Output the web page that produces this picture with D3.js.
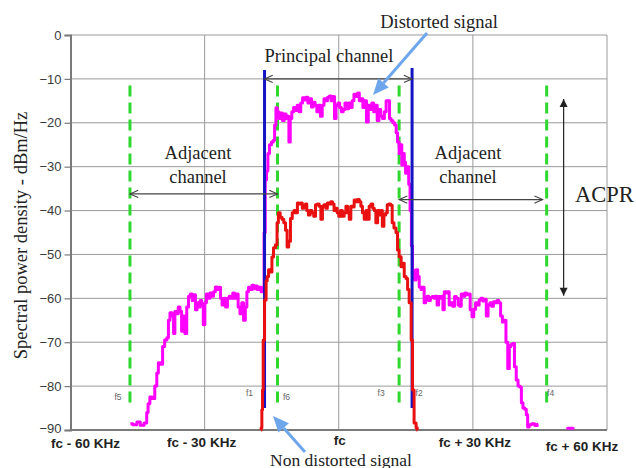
<!DOCTYPE html>
<html><head><meta charset="utf-8">
<script src="https://cdn.jsdelivr.net/npm/d3@7"></script>
<style>body{margin:0;background:#fff} svg{display:block}</style>
</head><body>
<svg id="c" width="636" height="468"></svg>
<script>
// ---------- data ----------
const yTicks = [0,-10,-20,-30,-40,-50,-60,-70,-80,-90];
const xTicks = [-60,-30,0,30,60];
const xTickLabels = ["fc - 60 KHz","fc - 30 KHz","fc","fc + 30 KHz","fc + 60 KHz"];

// distorted signal (kHz offset from fc, dBm/Hz)
const distorted = [
[-46.6,-88.6],[-45.5,-88.8],[-44.8,-88.2],[-44,-88.9],[-43.1,-88.4],[-42.8,-86],[-42.5,-84],[-42.0,-82.5],[-41.4,-82.8],[-40.9,-80],[-40.5,-77],[-40.2,-74.7],[-39.6,-75],[-39.2,-71],[-38.7,-69.5],[-38.2,-69],[-38.0,-65],[-37.5,-63.3],[-37.1,-64],[-36.8,-68],[-36.5,-63],[-36.1,-63.5],[-35.7,-62],[-35.3,-63],[-35.0,-67.5],[-34.6,-64],[-34.2,-68],[-33.8,-62],[-33.4,-59.5],[-33.0,-59],[-32.6,-60.5],[-32.2,-59.2],[-31.9,-62.6],[-31.5,-61],[-31.2,-62],[-30.8,-60.5],[-30.5,-61.5],[-30.1,-66],[-29.8,-61],[-29.4,-59],[-29.0,-60],[-28.6,-58.8],[-28.2,-59.5],[-27.8,-58.5],[-27.4,-57.4],[-27.0,-58],[-26.6,-57.5],[-26.3,-60],[-25.9,-61.5],[-25.5,-60],[-25.1,-62],[-24.7,-60],[-24.3,-59.5],[-23.9,-60],[-23.5,-58.8],[-23.1,-60],[-22.7,-59],[-22.3,-62],[-21.9,-63.5],[-21.5,-61],[-21.1,-65],[-20.7,-62],[-20.4,-58.5],[-20.0,-57.5],[-19.6,-58],[-19.2,-57],[-18.8,-57.8],[-18.4,-57.2],[-18.0,-58],[-17.6,-57.5],[-17.1,-58.5],
[-16.8,-58],[-16.6,-45],[-16.3,-33],[-16.0,-31],[-15.7,-27],[-15.3,-25],[-14.8,-24.4],[-14.5,-24],[-14.2,-20.5],[-13.9,-16.6],[-13.6,-17.5],[-13.2,-19],[-12.8,-17.8],[-12.4,-19.5],[-12.0,-18],[-11.6,-19],[-11.3,-18.5],[-11.0,-24.4],[-10.7,-19],[-10.3,-17.5],[-9.9,-16.5],[-9.5,-17.2],[-9.1,-16],[-8.7,-17.5],[-8.3,-15.5],[-7.9,-14.3],[-7.5,-14.8],[-7.1,-14.2],[-6.7,-15.5],[-6.3,-14.5],[-5.9,-16.4],[-5.5,-15.3],[-5.1,-16],[-4.7,-17.5],[-4.3,-16],[-3.9,-18.5],[-3.5,-16],[-3.1,-14.5],[-2.7,-15],[-2.3,-14.2],[-1.9,-13.9],[-1.5,-15],[-1.1,-14],[-0.8,-19],[-0.4,-16],[0,-15.5],[0.4,-16.5],[0.8,-17.5],[1.2,-17],[1.6,-15.5],[2.0,-16.8],[2.4,-15.5],[2.8,-16.5],[3.2,-15],[3.6,-13.5],[4.0,-14],[4.4,-13.2],[4.8,-15],[5.2,-14.5],[5.6,-16.5],[6.0,-15],[6.4,-19.8],[6.8,-16],[7.2,-17],[7.6,-15.5],[8.0,-17.5],[8.4,-16],[8.8,-19.5],[9.2,-17],[9.6,-18.5],[10.0,-19],[10.4,-17.5],[10.8,-15],[11.2,-15],[11.5,-19],[11.9,-19.5],[12.3,-20],[12.7,-20.5],[13.0,-22.3],[13.3,-24.4],[13.7,-27],[14.0,-25],[14.2,-29.6],[14.5,-27],[14.8,-29],[15.1,-31.5],[15.5,-30],[15.8,-34],[16.1,-40],[16.4,-48],[16.6,-53.5],
[16.8,-54],[17.1,-55.8],[17.5,-53.5],[17.8,-55],[18.2,-57.4],[18.6,-58],[18.9,-57.5],[19.3,-61],[19.6,-60],[19.9,-59.5],[20.3,-60.5],[20.7,-59.8],[21.1,-59.6],[21.5,-60],[21.8,-59.5],[22.2,-61.5],[22.5,-59.6],[22.9,-60],[23.2,-59.5],[23.4,-62.6],[23.8,-58.5],[24.2,-58.8],[24.5,-58.5],[24.9,-61.5],[25.3,-61],[25.7,-61.8],[26.1,-59.6],[26.5,-60],[26.9,-61.5],[27.2,-61.8],[27.6,-59],[28.0,-59.5],[28.4,-58.8],[28.8,-59.2],[29.2,-59],[29.6,-62.6],[30.0,-64.2],[30.4,-62.5],[30.8,-61],[31.2,-61.5],[31.6,-60.4],[32.0,-60],[32.4,-60.6],[32.8,-60.2],[33.2,-64],[33.6,-61.5],[34.0,-61],[34.4,-61.8],[34.8,-60.8],[35.2,-61],[35.6,-60.5],[36.0,-61],[36.4,-64],[36.8,-65.4],[37.2,-65],[37.6,-70],[38.0,-76],[38.3,-71],[38.7,-70.5],[39.1,-70.3],[39.5,-75.6],[39.9,-78.6],[40.3,-80],[40.7,-80.2],[41.0,-83.8],[41.4,-85],[41.8,-85.3],[42.1,-86.5],[42.4,-89.3],[42.8,-88.8],[43.5,-88.6],[44.2,-89],[44.6,-88.7]
];
const distortedTail = [[51.2,-89.6],[52.4,-89.6]];

// non distorted signal
const nonDistorted = [
[-17.4,-90],[-17.3,-89.5],[-17.1,-85.4],[-17.0,-80.9],[-16.8,-69.5],[-16.4,-60.4],[-16.1,-56],[-15.9,-55],[-15.5,-53.5],[-15.1,-54],[-14.8,-50.6],[-14.4,-48.5],[-13.9,-47.8],[-13.7,-42.8],[-13.3,-40.5],[-12.9,-41.5],[-12.5,-42],[-12.1,-42.8],[-11.7,-44.5],[-11.4,-48.3],[-11.0,-47],[-10.6,-41.8],[-10.2,-40.5],[-9.8,-40],[-9.4,-40.5],[-9.1,-38.3],[-8.7,-38.5],[-8.3,-38.3],[-8.0,-39.5],[-7.6,-39],[-7.3,-38.5],[-7.0,-40],[-6.6,-41],[-6.2,-40],[-5.8,-40.5],[-5.4,-41.3],[-5.0,-38.7],[-4.6,-38.5],[-4.2,-39],[-3.8,-42],[-3.5,-39],[-3.1,-38.7],[-2.7,-39.5],[-2.4,-38.3],[-2.0,-38.5],[-1.6,-38],[-1.2,-38.5],[-0.9,-40],[-0.5,-39.5],[-0.2,-40.5],[0.2,-41.3],[0.6,-40],[1.0,-41.3],[1.4,-40.5],[1.8,-39],[2.2,-40.5],[2.5,-42],[2.9,-39],[3.3,-39.2],[3.6,-37.6],[4.0,-38],[4.4,-37.5],[4.8,-38],[5.1,-39],[5.5,-40.5],[5.9,-42],[6.3,-40],[6.6,-42],[7.0,-39],[7.4,-38.5],[7.8,-39.5],[8.1,-40],[8.5,-42.8],[8.9,-40],[9.3,-41],[9.6,-40],[9.9,-43.6],[10.3,-41],[10.7,-40.5],[11.0,-38.7],[11.4,-38.5],[11.8,-38.8],[12.1,-42.8],[12.6,-44],[13.0,-45],[13.3,-49],[13.7,-50.5],[14.2,-52.8],[14.5,-52],[14.8,-55],[15.3,-55.5],[15.5,-58],[16.0,-61],[16.4,-69.5],[16.6,-80.9],[17.1,-88.4],[17.5,-89.5],[17.6,-90]
];

// principal channel edges (blue) and measurement frequencies (green)
const blueNames = ["f1","f2"];
const blueFreqs = [-16.6, 16.4];
const greenNames = ["f5","f6","f3","f4"];
const greenFreqs = [-46.7, -13.7, 13.5, 46.5];
const acprLevels = [-14.6, -59.4];

// ---------- drawing ----------
const svg = d3.select("#c");
const m = {l:70.5, r:607, t:35, b:430};
const x = d3.scaleLinear().domain([-60,60]).range([m.l, m.r]);
const y = d3.scaleLinear().domain([-90,0]).range([m.b, m.t]);
const serif = "'Liberation Serif','Times New Roman',serif";
const sans = "'Liberation Sans',Arial,sans-serif";

// grid
const g = svg.append("g");
g.selectAll(".hg").data(yTicks).join("line")
  .attr("x1", m.l).attr("x2", m.r)
  .attr("y1", d=>y(d)).attr("y2", d=>y(d))
  .attr("stroke", "#9a9a9a").attr("stroke-width", 1);
g.selectAll(".vg").data(xTicks).join("line")
  .attr("x1", d=>x(d)).attr("x2", d=>x(d))
  .attr("y1", m.t).attr("y2", m.b)
  .attr("stroke", "#9a9a9a").attr("stroke-width", 1);

// left axis
const yAxis = d3.axisLeft(y).tickValues(yTicks).tickSize(6).tickPadding(3).tickFormat(d3.format("d"));
const ya = svg.append("g").attr("transform", `translate(${m.l},0)`).call(yAxis);
ya.select(".domain").attr("stroke", "#7a7a7a").attr("stroke-width", 2);
ya.selectAll(".tick line").attr("stroke", "#7a7a7a").attr("stroke-width", 1.2);
ya.selectAll(".tick text").attr("font-family", sans).attr("font-size", 13).attr("fill", "#3a3a3a");
ya.selectAll(".tick text").filter(d=>d===-90).attr("dy", "0.2em");
// bottom axis line
svg.append("line").attr("x1", m.l-1).attr("x2", m.r).attr("y1", y(-90)).attr("y2", y(-90))
  .attr("stroke", "#7a7a7a").attr("stroke-width", 2);

// x labels
const xdx = [15, -3, 1, 2, -25];
const xdy = [1, 0, -2, 0, 4];
svg.append("g").selectAll("text").data(xTicks).join("text")
  .attr("x", (d,i)=>x(d)+xdx[i]).attr("y", (d,i)=>m.b+17+xdy[i])
  .attr("text-anchor", "middle").attr("font-family", sans).attr("font-weight", "bold")
  .attr("font-size", 13.5).attr("fill", "#222").text((d,i)=>xTickLabels[i]);

// y title
svg.append("text").attr("transform", `translate(27,${(m.t+m.b)/2+3}) rotate(-90)`)
  .attr("text-anchor", "middle").attr("font-family", serif).attr("font-size", 18.5)
  .attr("fill", "#222").text("Spectral power density - dBm/Hz");

// green dashed lines
svg.append("g").selectAll("line").data(greenFreqs).join("line")
  .attr("x1", d=>x(d)).attr("x2", d=>x(d)).attr("y1", y(-11.5)).attr("y2", y(-85))
  .attr("stroke", "#2fd82f").attr("stroke-width", 3).attr("stroke-dasharray", "11,6");

const line = d3.line().x(d=>x(d[0])).y(d=>y(d[1])).curve(d3.curveStep);
// distorted
svg.append("path").datum(distorted).attr("d", line).attr("fill", "none")
  .attr("stroke", "#ff00ff").attr("stroke-width", 3).attr("stroke-linejoin", "round");
svg.append("path").datum(distortedTail).attr("d", line).attr("fill", "none")
  .attr("stroke", "#ff00ff").attr("stroke-width", 3).attr("stroke-linecap", "round");

// blue lines
svg.append("g").selectAll("line").data(blueFreqs).join("line")
  .attr("x1", d=>x(d)).attr("x2", d=>x(d)).attr("y1", (d,i)=>y(i? -7.5 : -8)).attr("y2", y(-85))
  .attr("stroke", "#1414c4").attr("stroke-width", 3);

// non distorted
svg.append("path").datum(nonDistorted).attr("d", line).attr("fill", "none")
  .attr("stroke", "#e81010").attr("stroke-width", 3).attr("stroke-linejoin", "round");

// frequency labels
const labOff = {f1:[-15,393], f2:[7,393], f5:[-12,397], f6:[9,397], f3:[-18,393], f4:[4,393]};
const allNames = blueNames.concat(greenNames), allFreqs = blueFreqs.concat(greenFreqs);
svg.append("g").selectAll("text").data(allNames).join("text")
  .attr("x", (d,i)=>x(allFreqs[i]) + labOff[d][0]).attr("y", d=>labOff[d][1]+3)
  .attr("text-anchor", "middle").attr("font-family", sans).attr("font-size", 8.5)
  .attr("fill", "#666").text(d=>d);

// black double arrows
function dblArrow(x1,y1,x2,y2){
  const gg = svg.append("g").attr("stroke","#444").attr("stroke-width",1.1).attr("fill","none");
  gg.append("line").attr("x1",x1).attr("y1",y1).attr("x2",x2).attr("y2",y2);
  const a = Math.atan2(y2-y1, x2-x1), L = 9, s = 0.42;
  [[x2,y2,a],[x1,y1,a+Math.PI]].forEach(([px,py,ang])=>{
    gg.append("path").attr("d",
      `M${px-L*Math.cos(ang-s)},${py-L*Math.sin(ang-s)}L${px},${py}L${px-L*Math.cos(ang+s)},${py-L*Math.sin(ang+s)}`);
  });
}
dblArrow(x(blueFreqs[0]), y(-10), x(blueFreqs[1]), y(-10));
dblArrow(x(greenFreqs[0]), y(-36.2), x(greenFreqs[1]), y(-36.2));
dblArrow(x(greenFreqs[2]), y(-37.5), x(greenFreqs[3])-4, y(-37.5));
// ACPR arrow
(function(){
  const ax = x(50.3);
  const gg = svg.append("g");
  gg.append("line").attr("x1",ax).attr("x2",ax).attr("y1",y(acprLevels[0])).attr("y2",y(acprLevels[1]))
    .attr("stroke","#222").attr("stroke-width",1.2);
  const t = y(acprLevels[0]), b = y(acprLevels[1]);
  gg.append("path").attr("d",`M${ax-4},${t+8}L${ax},${t}L${ax+4},${t+8}Z`).attr("fill","#222");
  gg.append("path").attr("d",`M${ax-4},${b-8}L${ax},${b}L${ax+4},${b-8}Z`).attr("fill","#222");
})();

// light-blue pointer arrows
function pointer(x1,y1,x2,y2){
  const a = Math.atan2(y2-y1, x2-x1), L = 16, w = 7;
  const bx = x2 - L*Math.cos(a), by = y2 - L*Math.sin(a);
  svg.append("line").attr("x1",x1).attr("y1",y1).attr("x2",bx).attr("y2",by)
    .attr("stroke","#6ea6ec").attr("stroke-width",3);
  svg.append("path").attr("d",
    `M${x2},${y2}L${bx - w*Math.sin(a)},${by + w*Math.cos(a)}L${bx + w*Math.sin(a)},${by - w*Math.cos(a)}Z`)
    .attr("fill","#6ea6ec");
}
pointer(427, 33, 373, 95);
pointer(305, 452, 273, 416);

// text annotations
const txt = (s, tx, ty, size, anchor) => svg.append("text").attr("x",tx).attr("y",ty)
  .attr("font-family", serif).attr("font-size", size||18.5).attr("fill","#222")
  .attr("text-anchor", anchor||"middle").text(s);
txt("Distorted signal", 439, 28);
txt("Principal channel", 329, 62);
txt("Adjacent", 198, 159);
txt("channel", 198, 183);
txt("Adjacent", 468, 159);
txt("channel", 468, 183);
txt("ACPR", 575, 202, 22.5, "start");
txt("Non distorted signal", 341, 465.5, 17.5);
</script>
</body></html>
